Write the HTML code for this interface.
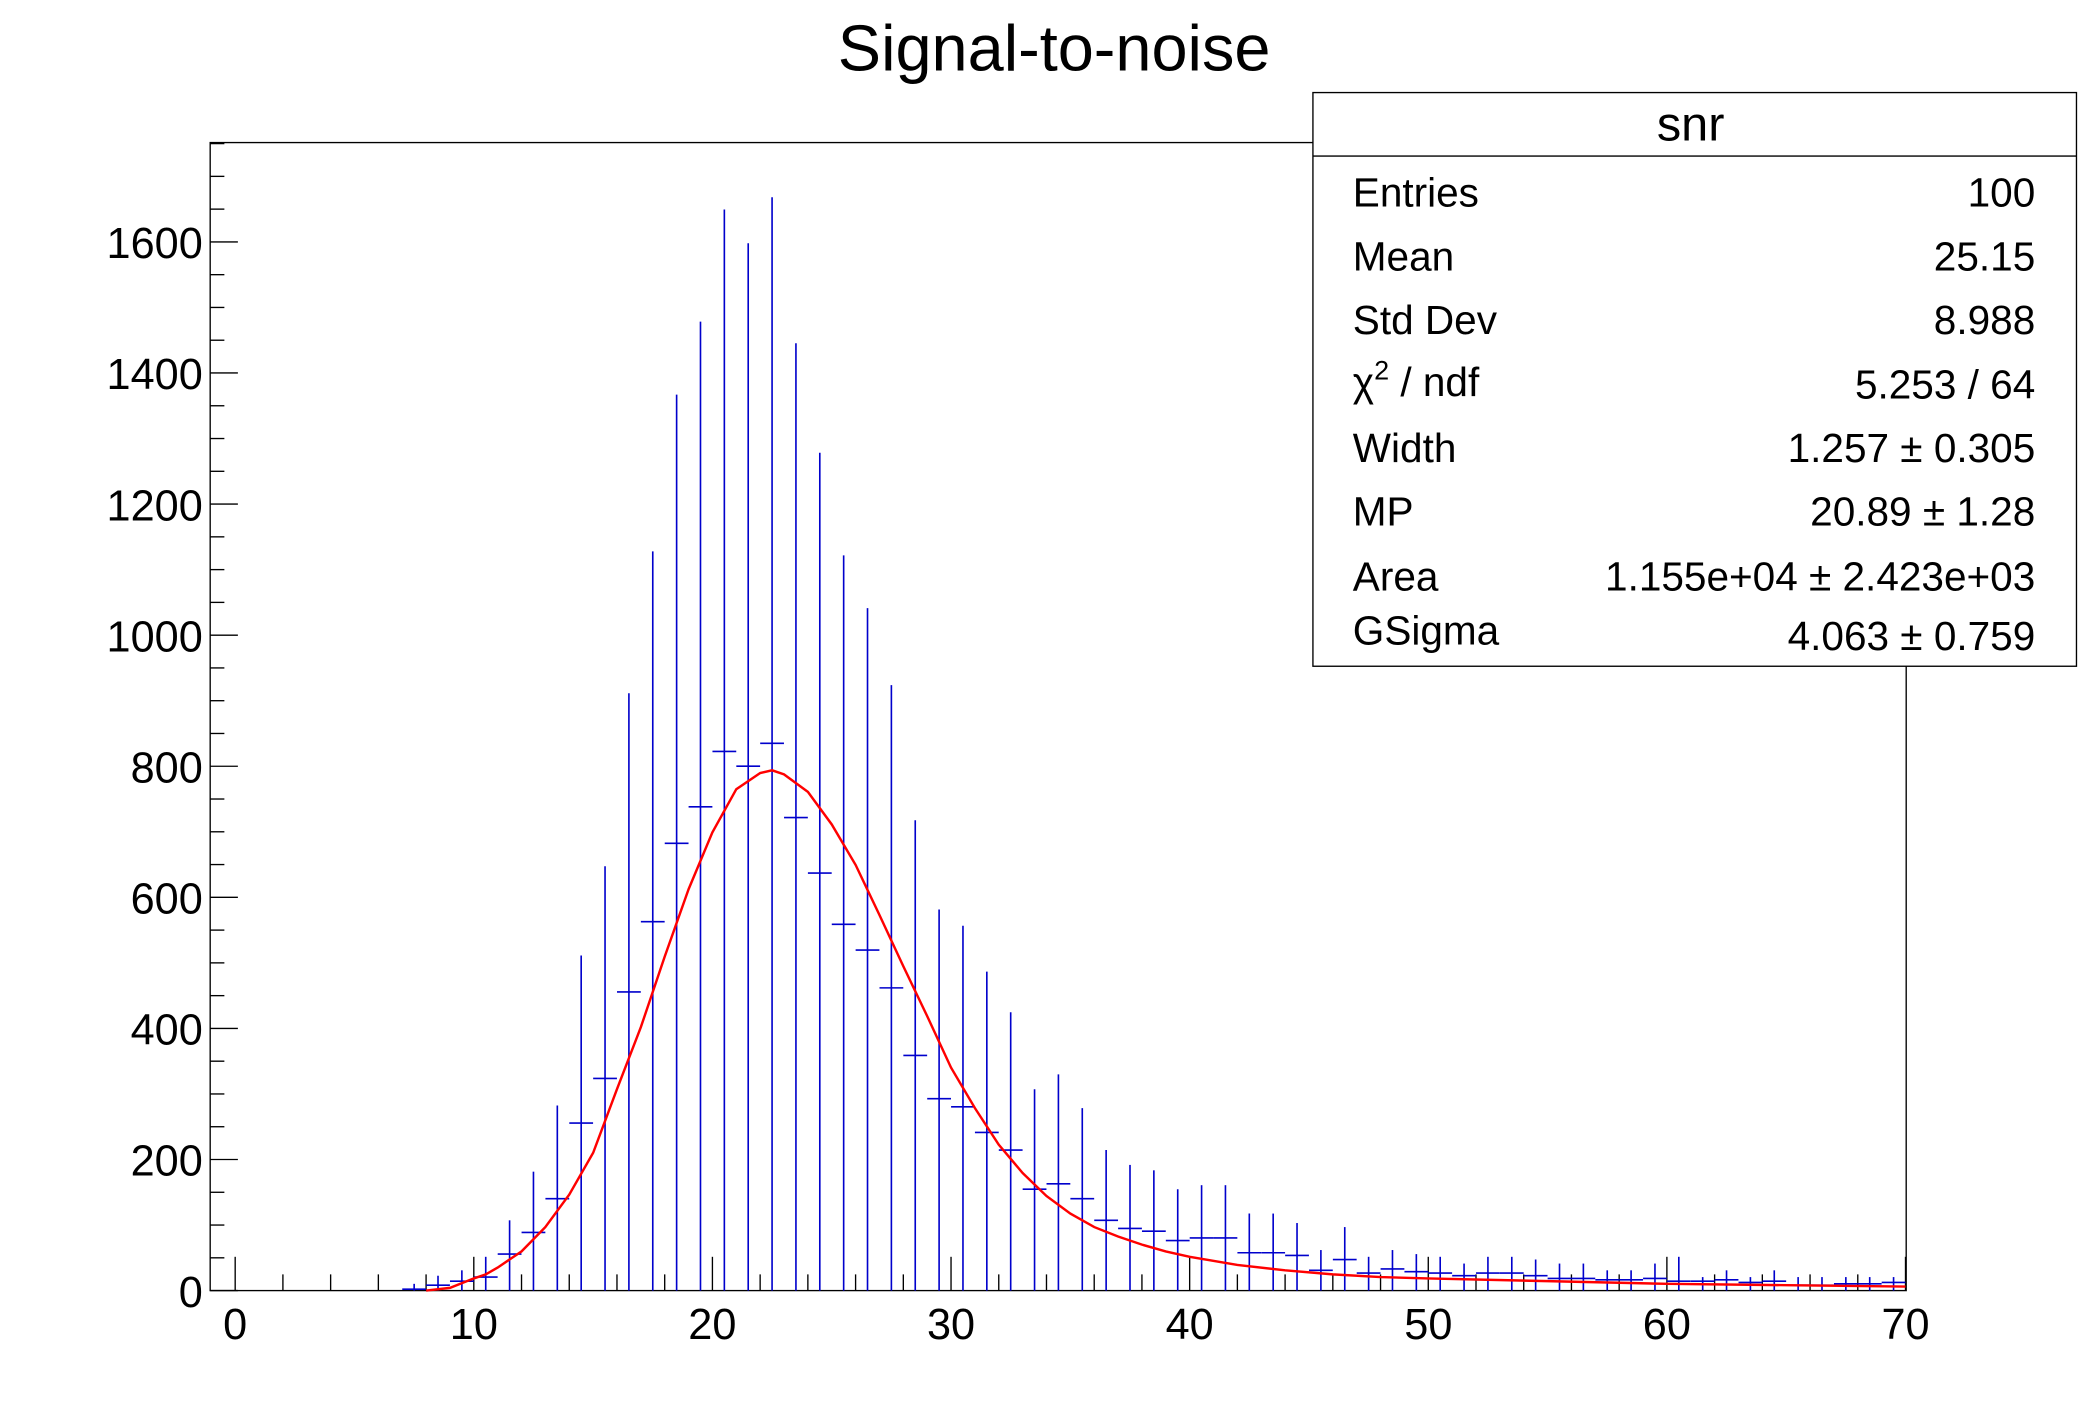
<!DOCTYPE html>
<html><head><meta charset="utf-8"><style>
html,body{margin:0;padding:0;background:#fff;}
svg{display:block;}
text{font-family:"Liberation Sans",sans-serif;fill:#000;}
</style></head><body>
<svg id="s" width="2088" height="1416" viewBox="0 0 1545 1047.8" xmlns="http://www.w3.org/2000/svg">
<rect x="0" y="0" width="1545" height="1048" fill="#fff"/>
<text x="780" y="52" font-size="48" text-anchor="middle">Signal-to-noise</text>
<rect x="155.5" y="105.5" width="1255" height="849.5" fill="none" stroke="#000" stroke-width="1"/>
<g id="ax" stroke="#000" stroke-width="1"></g>
<g id="data" stroke="#0000cc" stroke-width="1.2"></g>
<polyline id="fit" fill="none" stroke="#ff0000" stroke-width="1.8"/>
<g font-size="32">
<text x="150" y="967" text-anchor="end">0</text>
<text x="150" y="870" text-anchor="end">200</text>
<text x="150" y="773" text-anchor="end">400</text>
<text x="150" y="676" text-anchor="end">600</text>
<text x="150" y="579" text-anchor="end">800</text>
<text x="150" y="482" text-anchor="end">1000</text>
<text x="150" y="385" text-anchor="end">1200</text>
<text x="150" y="288" text-anchor="end">1400</text>
<text x="150" y="191" text-anchor="end">1600</text>
<text x="174" y="991" text-anchor="middle">0</text>
<text x="350.6" y="991" text-anchor="middle">10</text>
<text x="527.1" y="991" text-anchor="middle">20</text>
<text x="703.7" y="991" text-anchor="middle">30</text>
<text x="880.3" y="991" text-anchor="middle">40</text>
<text x="1056.9" y="991" text-anchor="middle">50</text>
<text x="1233.4" y="991" text-anchor="middle">60</text>
<text x="1410" y="991" text-anchor="middle">70</text>
</g>
<rect x="971.5" y="68.5" width="565" height="424.5" fill="#fff" stroke="#000" stroke-width="1"/>
<line x1="971.5" y1="115.5" x2="1536.5" y2="115.5" stroke="#000" stroke-width="1"/>
<text x="1251" y="104" font-size="36" text-anchor="middle">snr</text>
<g font-size="30">
<text x="1001" y="153">Entries</text><text x="1506" y="153" text-anchor="end">100</text>
<text x="1001" y="200">Mean</text><text x="1506" y="200" text-anchor="end">25.15</text>
<text x="1001" y="247">Std Dev</text><text x="1506" y="247" text-anchor="end">8.988</text>
<text x="1001" y="293">χ<tspan font-size="20" dy="-12">2</tspan><tspan dy="12"> / ndf</tspan></text><text x="1506" y="295" text-anchor="end">5.253 / 64</text>
<text x="1001" y="342">Width</text><text x="1506" y="342" text-anchor="end">1.257 ± 0.305</text>
<text x="1001" y="389">MP</text><text x="1506" y="389" text-anchor="end">20.89 ± 1.28</text>
<text x="1001" y="437">Area</text><text x="1506" y="437" text-anchor="end">1.155e+04 ± 2.423e+03</text>
<text x="1001" y="477">GSigma</text><text x="1506" y="481" text-anchor="end">4.063 ± 0.759</text>
</g>
</svg>
<script>
var NS="http://www.w3.org/2000/svg";
function X(v){return 174+17.657*v;}
function Yc(c){return 955-0.485*c;}
function L(g,x1,y1,x2,y2){var l=document.createElementNS(NS,"line");l.setAttribute("x1",x1);l.setAttribute("y1",y1);l.setAttribute("x2",x2);l.setAttribute("y2",y2);g.appendChild(l);}
var ax=document.getElementById("ax");
for(var c=0;c<=1750;c+=50){var y=Yc(c);if(y<106)break;L(ax,155.5,y,(c%200==0)?176:166,y);}
for(var v=0;v<=70;v+=2){var x=X(v);L(ax,x,955,x,(v%10==0)?930:943);}
var d=document.getElementById("data");
var pts=[[7.5,954,950],[8.5,951,944],[9.5,948,940],[10.5,945,930],[11.5,928,903],[12.5,912,867],[13.5,887,818],[14.5,831,707],[15.5,798,641],[16.5,734,513],[17.5,682,408],[18.5,624,292],[19.5,597,238],[20.5,556,155],[21.5,567,180],[22.5,550,146],[23.5,605,254],[24.5,646,335],[25.5,684,411],[26.5,703,450],[27.5,731,507],[28.5,781,607],[29.5,813,673],[30.5,819,685],[31.5,838,719],[32.5,851,749],[33.5,880,806],[34.5,876,795],[35.5,887,820],[36.5,903,851],[37.5,909,862],[38.5,911,866],[39.5,918,880],[40.5,916,877],[41.5,916,877],[42.5,927,898],[43.5,927,898],[44.5,929,905],[45.5,940,925],[46.5,932,908],[47.5,942,930],[48.5,939,925],[49.5,941,928],[50.5,942,930],[51.5,944,935],[52.5,942,930],[53.5,942,930],[54.5,944,932],[55.5,946,935],[56.5,946,935],[57.5,947,940],[58.5,947,940],[59.5,946,935],[60.5,948,930],[61.5,948,945],[62.5,947,940],[63.5,949,945],[64.5,948,940],[65.5,951,945],[66.5,951,945],[67.5,950,945],[68.5,950,945],[69.5,949,945]];
pts.forEach(function(p){var x=X(p[0]);L(d,x,p[2],x,955);L(d,x-8.8,p[1],x+8.8,p[1]);});
var f=[[8,955],[9,953],[10,946],[10.5,943],[11,938],[12,926],[13,908],[14,884],[15,853],[16,806],[17,760],[18,708],[19,658],[20,616],[21,584],[22,572],[22.5,570],[23,573],[24,586],[25,610],[26,640],[27,677],[28,715],[29,752],[30,790],[31,820],[32,847],[33,868],[34,885],[35,898],[36,908],[37,915],[38,921],[39,926],[40,930],[42,936],[44,940],[46,943],[48,945],[50,946],[55,948],[60,950],[65,951],[70,952]];
document.getElementById("fit").setAttribute("points",f.map(function(p){return X(p[0]).toFixed(1)+","+p[1];}).join(" "));
</script>
</body></html>
